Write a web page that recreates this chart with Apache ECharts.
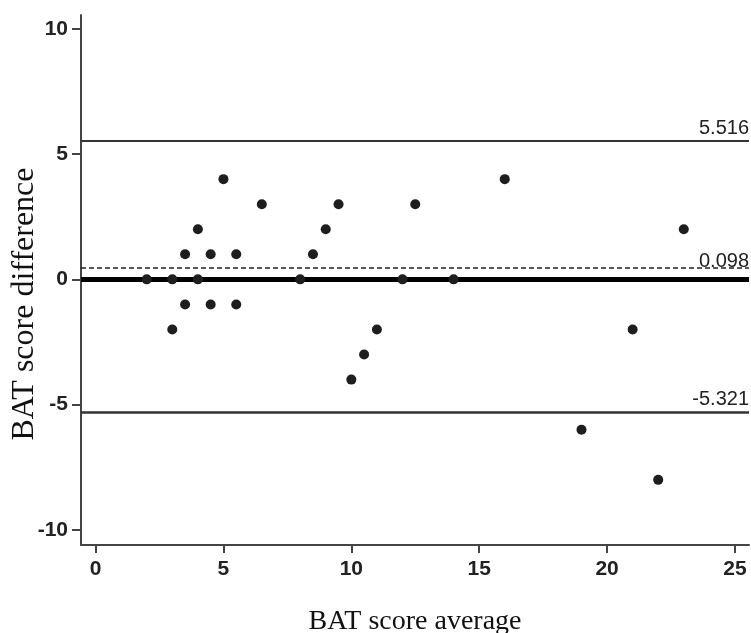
<!DOCTYPE html>
<html>
<head>
<meta charset="utf-8">
<script src="https://cdn.jsdelivr.net/npm/echarts@6/dist/echarts.min.js"></script>
<style>html,body{margin:0;padding:0;background:#fff}#c{width:751px;height:633px}</style>
</head>
<body>
<div id="c"></div>
<script>
const scoreAverage = [2, 3, 3, 3.5, 3.5, 4, 4, 4.5, 4.5, 5, 5.5, 5.5, 6.5, 8, 8.5, 9, 9.5, 10, 10.5, 11, 12, 12.5, 14, 16, 19, 21, 22, 23];
const scoreDifference = [0, 0, -2, 1, -1, 2, 0, 1, -1, 4, 1, -1, 3, 0, 1, 2, 3, -4, -3, -2, 0, 3, 0, 4, -6, -2, -8, 2];
const xTicks = [0, 5, 10, 15, 20, 25];
const yTicks = [-10, -5, 0, 5, 10];
const upperLimit = 5.516, upperLabel = '5.516';
const meanLine = 0.45, meanLabel = '0.098';
const lowerLimit = -5.321, lowerLabel = '-5.321';
const zeroLine = 0;

const points = scoreAverage.map((x, i) => [x, scoreDifference[i]]);
const lblStyle = {show: true, position: 'insideEndTop', distance: [0, 3], color: '#222', fontSize: 20, fontFamily: 'Liberation Sans, Arial, sans-serif'};

const chart = echarts.init(document.getElementById('c'), null, {renderer: 'canvas'});
chart.setOption({
  animation: false,
  backgroundColor: '#fff',
  grid: {left: 81, right: 2, top: 15, bottom: 88, containLabel: false, outerBoundsMode: 'none'},
  xAxis: {
    type: 'value', min: -0.57, max: 25.55,
    name: 'BAT score average', nameLocation: 'middle', nameGap: 63, nameMoveOverlap: false,
    nameTextStyle: {fontFamily: 'Liberation Serif, Times New Roman, serif', fontSize: 28, color: '#111', verticalAlign: 'top'},
    axisLine: {show: true, onZero: false, lineStyle: {color: '#444', width: 2}},
    axisTick: {show: true, customValues: xTicks, length: 8, lineStyle: {color: '#444', width: 2}},
    axisLabel: {customValues: xTicks, margin: 14, color: '#222', fontSize: 21, fontWeight: 'bold', fontFamily: 'Liberation Sans, Arial, sans-serif'},
    splitLine: {show: false}
  },
  yAxis: {
    type: 'value', min: -10.6, max: 10.55,
    name: 'BAT score difference', nameLocation: 'middle', nameGap: 40, nameMoveOverlap: false,
    nameTextStyle: {fontFamily: 'Liberation Serif, Times New Roman, serif', fontSize: 32, color: '#111', padding: [0, 48, 0, 0]},
    axisLine: {show: true, onZero: false, lineStyle: {color: '#444', width: 2}},
    axisTick: {show: true, customValues: yTicks, length: 9, lineStyle: {color: '#444', width: 2}},
    axisLabel: {customValues: yTicks, margin: 13, color: '#222', fontSize: 21, fontWeight: 'bold', fontFamily: 'Liberation Sans, Arial, sans-serif'},
    splitLine: {show: false}
  },
  series: [{
    type: 'scatter',
    data: points,
    symbol: 'circle',
    symbolSize: 10,
    itemStyle: {color: '#1e1e1e', opacity: 1},
    z: 5,
    markLine: {
      silent: true,
      symbol: ['none', 'none'],
      animation: false,
      data: [
        {yAxis: upperLimit, lineStyle: {color: '#333', width: 2, type: 'solid'}, label: Object.assign({}, lblStyle, {formatter: upperLabel})},
        {yAxis: meanLine, lineStyle: {color: '#222', width: 1.5, type: [5, 3]}, label: Object.assign({}, lblStyle, {formatter: meanLabel, distance: [0, -3]})},
        {yAxis: zeroLine, lineStyle: {color: '#000', width: 5, type: 'solid'}, label: {show: false}},
        {yAxis: lowerLimit, lineStyle: {color: '#333', width: 2.5, type: 'solid'}, label: Object.assign({}, lblStyle, {formatter: lowerLabel})}
      ]
    }
  }]
});
</script>
</body>
</html>
